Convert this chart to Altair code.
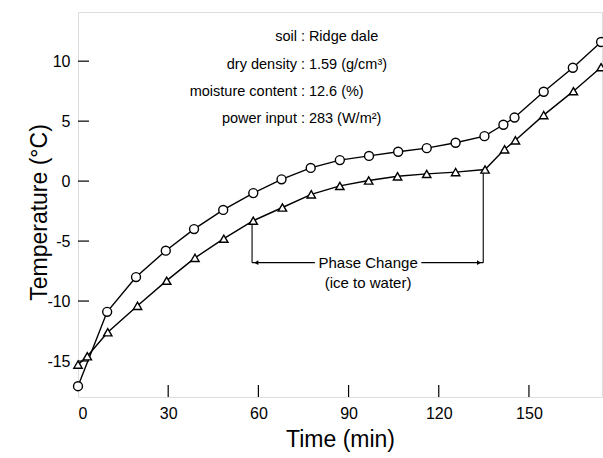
import altair as alt
import pandas as pd

# Circle series (upper curve)
times_c = [0, 9.7, 19.3, 29.2, 38.6, 48.3, 58.3, 67.7, 77.4, 87.1, 96.8, 106.5, 116.0,
           125.6, 135.2, 141.5, 145.2, 154.9, 164.6, 174.0]
temps_c = [-17.1, -10.9, -8.0, -5.8, -4.0, -2.4, -1.0, 0.15, 1.1, 1.75, 2.1, 2.45, 2.75,
           3.2, 3.75, 4.7, 5.3, 7.45, 9.45, 11.6]

# Triangle series (lower curve)
times_t = [0, 3.1, 9.9, 19.8, 29.5, 38.9, 48.5, 58.3, 68.0, 77.6, 87.1, 96.7, 106.3,
           116.0, 125.6, 135.4, 141.9, 145.5, 154.9, 164.8, 174.0]
temps_t = [-15.3, -14.6, -12.6, -10.4, -8.3, -6.4, -4.8, -3.3, -2.2, -1.1, -0.4, 0.05, 0.4,
           0.6, 0.75, 0.97, 2.65, 3.4, 5.5, 7.5, 9.5]

x_ticks = [0, 30, 60, 90, 120, 150]
y_ticks = [-15, -10, -5, 0, 5, 10]

info_labels = ["soil :", "dry density :", "moisture content :", "power input :"]
info_values = ["Ridge dale", "1.59 (g/cm³)", "12.6 (%)", "283 (W/m²)"]
info_y = [12.0, 9.7, 7.4, 5.2]

phase_start, phase_end = 57.9, 134.8
phase_start_top, phase_end_top = -3.3, 0.97
phase_y = -6.8

FONT = "Liberation Sans"
X_DOM = [0, 174.3]
Y_DOM = [-18, 14.1]

dc = pd.DataFrame({"t": times_c, "v": temps_c})
dt = pd.DataFrame({"t": times_t, "v": temps_t})

xs = alt.Scale(domain=X_DOM, nice=False, zero=False)
ys = alt.Scale(domain=Y_DOM, nice=False, zero=False)

xenc = alt.X("t:Q", scale=xs, axis=alt.Axis(
    values=x_ticks, title="Time (min)", ticks=False, domain=False, grid=False,
    labelFont=FONT, labelFontSize=16, labelColor="black", labelPadding=8,
    titleFont=FONT, titleFontSize=23, titleFontWeight="normal", titleColor="black",
    titleX=262, titleY=42, titleBaseline="middle", titleAlign="center"))
yenc = alt.Y("v:Q", scale=ys, axis=alt.Axis(
    values=y_ticks, title="Temperature (°C)", ticks=False, domain=False, grid=False,
    labelFont=FONT, labelFontSize=16, labelColor="black", labelPadding=8,
    labelExpr="'' + datum.value",
    titleFont=FONT, titleFontSize=23, titleFontWeight="normal", titleColor="black",
    titleX=-39, titleY=200, titleBaseline="middle", titleAlign="center", titleAngle=270))

line_c = alt.Chart(dc).mark_line(color="black", strokeWidth=1.4).encode(x=xenc, y=yenc)
line_t = alt.Chart(dt).mark_line(color="black", strokeWidth=1.4).encode(
    x=alt.X("t:Q", scale=xs), y=alt.Y("v:Q", scale=ys))
pts_c = alt.Chart(dc).mark_point(shape="circle", size=80, fill="white", fillOpacity=1,
                                 stroke="black", strokeWidth=1.4, opacity=1).encode(
    x=alt.X("t:Q", scale=xs), y=alt.Y("v:Q", scale=ys))
pts_t = alt.Chart(dt).mark_point(shape="triangle-up", size=70, fill="white", fillOpacity=1,
                                 stroke="black", strokeWidth=1.4, opacity=1).encode(
    x=alt.X("t:Q", scale=xs), y=alt.Y("v:Q", scale=ys))

# inward ticks
xt = pd.DataFrame({"t": x_ticks[1:]})
xtick = alt.Chart(xt).mark_rule(color="black", strokeWidth=1.2).encode(
    x=alt.X("t:Q", scale=xs), y=alt.value(385), y2=alt.value(373))
yt = pd.DataFrame({"v": y_ticks})
ytick = alt.Chart(yt).mark_rule(color="black", strokeWidth=1.2).encode(
    y=alt.Y("v:Q", scale=ys), x=alt.value(0), x2=alt.value(11))

# info text
di = pd.DataFrame({"lab": info_labels, "val": info_values, "y": info_y,
                   "x": [75.5] * 4, "x2": [76.8] * 4})
info_l = alt.Chart(di).mark_text(align="right", baseline="middle", font=FONT,
                                 fontSize=14.5, color="black").encode(
    x=alt.X("x:Q", scale=xs), y=alt.Y("y:Q", scale=ys), text="lab:N")
info_r = alt.Chart(di).mark_text(align="left", baseline="middle", font=FONT,
                                 fontSize=14.5, color="black").encode(
    x=alt.X("x2:Q", scale=xs), y=alt.Y("y:Q", scale=ys), text="val:N")

# phase change annotation
dv = pd.DataFrame({"t": [phase_start, phase_end], "top": [phase_start_top, phase_end_top],
                   "bot": [phase_y, phase_y]})
vlines = alt.Chart(dv).mark_rule(color="black", strokeWidth=1.1).encode(
    x=alt.X("t:Q", scale=xs), y=alt.Y("top:Q", scale=ys), y2="bot:Q")
dh = pd.DataFrame({"a": [phase_start, 114.2], "b": [78.8, phase_end], "y": [phase_y, phase_y]})
hlines = alt.Chart(dh).mark_rule(color="black", strokeWidth=1.1).encode(
    x=alt.X("a:Q", scale=xs), x2="b:Q", y=alt.Y("y:Q", scale=ys))
da = pd.DataFrame({"t": [phase_start + 1.4, phase_end - 1.4], "y": [phase_y, phase_y],
                   "s": ["triangle-left", "triangle-right"]})
arrows = alt.Chart(da).mark_point(filled=True, color="black", size=22, opacity=1).encode(
    x=alt.X("t:Q", scale=xs), y=alt.Y("y:Q", scale=ys),
    shape=alt.Shape("s:N", scale=None, legend=None))
dtxt = pd.DataFrame({"t": [96.5, 96.5], "y": [phase_y, -8.5],
                     "txt": ["Phase Change", "(ice to water)"]})
ptext = alt.Chart(dtxt).mark_text(align="center", baseline="middle", font=FONT,
                                  fontSize=15, color="black").encode(
    x=alt.X("t:Q", scale=xs), y=alt.Y("y:Q", scale=ys), text="txt:N")

chart = alt.layer(line_c, line_t, xtick, ytick, vlines, hlines, arrows, ptext,
                  info_l, info_r, pts_c, pts_t).properties(
    width=524, height=385,
    autosize=alt.AutoSizeParams(type="none"),
    padding={"left": 78, "top": 12, "right": 1, "bottom": 61},
).configure_view(stroke="black", strokeWidth=1.4).configure(background="white")

chart.save("out.html", embed_options={"renderer": "svg", "actions": False})
